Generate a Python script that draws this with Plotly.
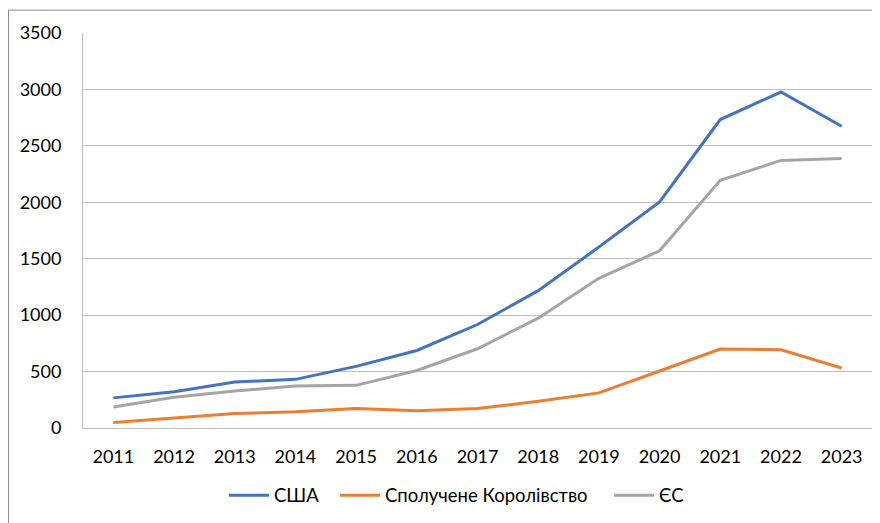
import plotly.graph_objects as go

years = ["2011", "2012", "2013", "2014", "2015", "2016", "2017", "2018", "2019", "2020", "2021", "2022", "2023"]
usa = [267, 322, 408, 431, 546, 687, 917, 1217, 1603, 2003, 2733, 2977, 2674]
uk = [49, 90, 128, 143, 172, 152, 172, 237, 311, 505, 699, 693, 532]
eu = [187, 272, 328, 372, 378, 510, 702, 973, 1326, 1570, 2194, 2371, 2388]
series_names = ["США", "Сполучене Королівство", "ЄС"]
colors = ["#4472C4", "#ED7D31", "#A5A5A5"]

# page body has an 8px margin; figure coordinates are screen - 8
OFF = 8
W, H = 880 - OFF, 523 - OFF
L, R, T, B = 83 - OFF, 872 - OFF, 33 - OFF, 430 - OFF
pw, ph = R - L, B - T

legend_ids = ["legend", "legend2", "legend3"]
legend_starts = [229, 340, 614]  # screen x of each legend line start

fig = go.Figure()
for name, vals, c, lg in zip(series_names, [usa, uk, eu], colors, legend_ids):
    fig.add_trace(go.Scatter(x=years, y=vals, name=name, mode="lines",
                             line=dict(color=c, width=3), legend=lg))

font_family = "Lato, 'Liberation Sans', sans-serif"
legend_common = dict(orientation="h", xanchor="left", yanchor="middle",
                     y=(B - (498 - OFF)) / ph, font=dict(size=18.5),
                     itemwidth=40, bgcolor="rgba(0,0,0,0)")
layout_legends = {}
for lg, xs in zip(legend_ids, legend_starts):
    layout_legends[lg] = dict(x=(xs - OFF - L - 5) / pw, **legend_common)

fig.update_layout(
    width=W, height=H,
    margin=dict(l=L, r=W - R, t=T, b=H - B, pad=0),
    paper_bgcolor="white", plot_bgcolor="white",
    font=dict(family=font_family, size=18, color="#000000"),
    showlegend=True,
    xaxis=dict(type="category", range=[-0.5, 12.5], showgrid=False,
               showline=True, linecolor="#BFBFBF", linewidth=1,
               ticks="", ticklabelstandoff=12, fixedrange=True),
    yaxis=dict(range=[0, 3500], dtick=500, showgrid=True, gridcolor="#BFBFBF",
               gridwidth=1, zeroline=False, showline=True, linecolor="#BFBFBF",
               linewidth=1, ticks="", ticklabelstandoff=17, fixedrange=True),
    **layout_legends,
)

fig.add_shape(type="rect", xref="paper", yref="paper",
              x0=(8.5 - OFF - L) / pw, x1=1.2, y0=-0.5, y1=1 + (T - (10 - OFF)) / ph,
              line=dict(color="#8C8C8C", width=1), fillcolor="rgba(0,0,0,0)",
              layer="above")

fig.write_html("out.html")
